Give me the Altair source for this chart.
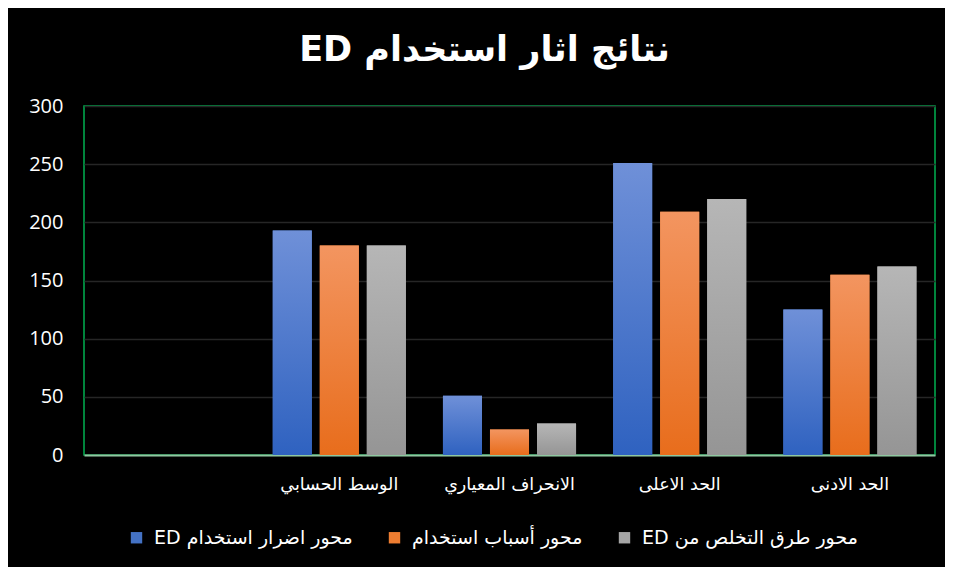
import altair as alt
import pandas as pd

categories = ["", "الوسط الحسابي", "الانحراف المعياري", "الحد الاعلى", "الحد الادنى"]
series = ["محور اضرار استخدام ED", "محور أسباب استخدام", "محور طرق التخلص من ED"]
harm = [193, 51, 251, 125]
causes = [180, 22, 209, 155]
disposal = [180, 27, 220, 162]
y_ticks = [0, 50, 100, 150, 200, 250, 300]
title_text = "نتائج اثار استخدام ED"

rows = []
for s, vals in zip(series, [harm, causes, disposal]):
    for c, v in zip(categories[1:], vals):
        rows.append({"category": c, "series": s, "value": v})
df = pd.DataFrame(rows)

solid = ["#4472c4", "#ed7d31", "#a5a5a5"]
grads = [("#6f90d8", "#2f62c0"), ("#f39560", "#e86d1c"), ("#b6b6b6", "#959595")]

AR_FONT = "DejaVu Sans"

x_enc = alt.X(
    "category:N",
    scale=alt.Scale(domain=categories, paddingInner=0.218, paddingOuter=0.109),
    axis=alt.Axis(
        title=None, labelAngle=0, labelColor="#ffffff", labelFontSize=17.5,
        labelFont=AR_FONT, labelPadding=20, ticks=False, labelLimit=300,
        domainColor="#8fc7a0", domainWidth=2, grid=False,
    ),
)
y_enc = alt.Y(
    "value:Q",
    scale=alt.Scale(domain=[0, 300], nice=False),
    axis=alt.Axis(
        title=None, values=y_ticks, labelColor="#ffffff", labelFontSize=20,
        labelFont="Open Sans", labelPadding=21, ticks=False, domain=False,
        gridColor="#262626", gridWidth=1.5,
    ),
)
xoff_enc = alt.XOffset(
    "series:N", scale=alt.Scale(domain=series, paddingInner=0.17, paddingOuter=0)
)

base = alt.Chart(df).mark_bar().encode(
    x=x_enc,
    y=y_enc,
    xOffset=xoff_enc,
    color=alt.Color(
        "series:N",
        scale=alt.Scale(domain=series, range=solid),
        legend=alt.Legend(
            title=None, orient="none", direction="horizontal",
            legendX=43, legendY=422,
            labelColor="#ffffff", labelFontSize=19, labelFont=AR_FONT,
            labelLimit=400,
            symbolType="square", symbolSize=130, symbolStrokeWidth=0,
            columnPadding=32, labelOffset=8,
            labelExpr="'\u202b' + datum.label + '\u202c'",
        ),
    ),
)

layers = [base]
for s, (top, bot) in zip(series, grads):
    layers.append(
        alt.Chart(df)
        .transform_filter(alt.FieldEqualPredicate(field="series", equal=s))
        .mark_bar(
            color=alt.Gradient(
                gradient="linear",
                stops=[alt.GradientStop(color=top, offset=0),
                       alt.GradientStop(color=bot, offset=1)],
                x1=0, x2=0, y1=0, y2=1,
            )
        )
        .encode(x=x_enc, y=y_enc, xOffset=xoff_enc)
    )

chart = (
    alt.layer(*layers)
    .properties(
        width=851,
        height=349,
        autosize=alt.AutoSizeParams(type="none"),
        padding={"left": 76, "top": 98, "right": 10, "bottom": 112},
        title=alt.TitleParams(
            text="\u202b" + title_text + "\u202c",
            color="#ffffff", fontSize=35, font=AR_FONT, fontWeight="bold",
            anchor="middle", frame="group", offset=28, dx=-25,
        ),
    )
    .configure(background="#000000")
    .configure_view(stroke="#00b050", strokeWidth=1.5)
)

chart.save("out.html", embed_options={"renderer": "svg", "actions": False})
